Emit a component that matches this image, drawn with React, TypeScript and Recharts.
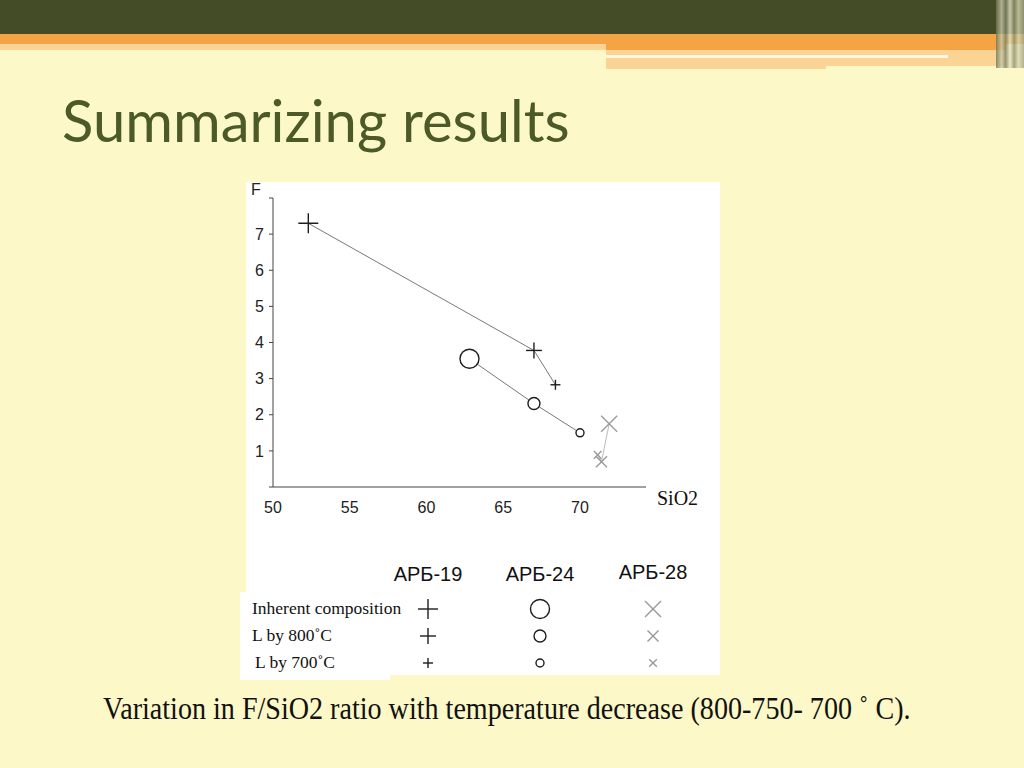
import React from 'react';
import { ScatterChart, Scatter, XAxis, YAxis } from 'recharts';

// stages of the experiment (marker size goes down with each stage)
const stages = ['Inherent composition', 'L by 800˚C', 'L by 700˚C'];
const samples = ['АРБ-19', 'АРБ-24', 'АРБ-28'];

const sio2Arb19 = [52.3, 67.0, 68.4];
const fArb19 = [7.3, 3.78, 2.83];
const sio2Arb24 = [62.8, 67.0, 70.0];
const fArb24 = [3.55, 2.31, 1.5];
const sio2Arb28 = [71.9, 71.4, 71.15];
const fArb28 = [1.75, 0.7, 0.89];

const xTicks = [50, 55, 60, 65, 70];
const yTicks = [0, 1, 2, 3, 4, 5, 6, 7, 8];

const toPoints = (xs: number[], ys: number[]) =>
  xs.map((x, i) => ({ x, y: ys[i], stage: i }));

const arb19 = toPoints(sio2Arb19, fArb19);
const arb24 = toPoints(sio2Arb24, fArb24);
const arb28 = toPoints(sio2Arb28, fArb28);

const markerStyle: any = {
  plus: { sizes: [10, 8, 5], color: '#1e1e1e' },
  circle: { sizes: [9.5, 6, 4], color: '#1e1e1e' },
  cross: { sizes: [8, 5.5, 3.8], color: '#9a9a9a' },
};

function Marker({ kind, stage, cx, cy }: { kind: string; stage: number; cx: number; cy: number }) {
  const st = markerStyle[kind];
  const s = st.sizes[stage];
  if (kind === 'circle') {
    return <circle cx={cx} cy={cy} r={s} fill="#fff" stroke={st.color} strokeWidth={1.4} />;
  }
  if (kind === 'plus') {
    return (
      <g stroke={st.color} strokeWidth={1.4}>
        <line x1={cx - s} y1={cy} x2={cx + s} y2={cy} />
        <line x1={cx} y1={cy - s} x2={cx} y2={cy + s} />
      </g>
    );
  }
  return (
    <g stroke={st.color} strokeWidth={1.4}>
      <line x1={cx - s} y1={cy - s} x2={cx + s} y2={cy + s} />
      <line x1={cx - s} y1={cy + s} x2={cx + s} y2={cy - s} />
    </g>
  );
}

const kinds = ['plus', 'circle', 'cross'];
const colX = [428, 540, 653];
const rowY = [609, 636, 663];

function LegendIcon({ kind, stage, x, y }: any) {
  return (
    <svg style={{ position: 'absolute', left: x - 14, top: y - 14 }} width={28} height={28}>
      <Marker kind={kind} stage={stage} cx={14} cy={14} />
    </svg>
  );
}

export default function App() {
  const tickStyle = { fill: '#222', fontSize: 16, fontFamily: '"Liberation Sans", Arial, sans-serif' };
  return (
    <div style={{ position: 'absolute', left: 0, top: 0, width: 1024, height: 768, background: '#fdf8c7', overflow: 'hidden' }}>
      {/* header bands */}
      <div style={{ position: 'absolute', left: 0, top: 0, width: 1024, height: 34, background: '#434c27' }} />
      <div style={{ position: 'absolute', left: 0, top: 34, width: 1024, height: 10, background: '#f5a445' }} />
      <div style={{ position: 'absolute', left: 0, top: 44, width: 606, height: 6, background: '#fbd394' }} />
      <div style={{ position: 'absolute', left: 606, top: 44, width: 400, height: 6, background: '#f5a445' }} />
      <div style={{ position: 'absolute', left: 606, top: 50, width: 400, height: 5, background: '#fbd394' }} />
      <div style={{ position: 'absolute', left: 606, top: 55, width: 342, height: 3, background: '#fffbe0' }} />
      <div style={{ position: 'absolute', left: 948, top: 55, width: 58, height: 3, background: '#fbd394' }} />
      <div style={{ position: 'absolute', left: 606, top: 58, width: 220, height: 11, background: '#fbd394' }} />
      <div style={{ position: 'absolute', left: 826, top: 58, width: 180, height: 8, background: '#fbd394' }} />
      <div style={{ position: 'absolute', left: 996, top: 0, width: 28, height: 68, background: 'linear-gradient(90deg, #6e7450 0%, #c9c9a8 20%, #7d8060 35%, #e8e6c8 50%, #8b8d6a 65%, #d8d6b0 80%, #9ea080 100%)', opacity: 0.8 }} />

      <div style={{ position: 'absolute', left: 62, top: 85, fontFamily: 'Lato, sans-serif', fontSize: 58, lineHeight: 1.2, color: '#4b5a28', whiteSpace: 'nowrap' }}>
        Summarizing results
      </div>

      {/* white image panel */}
      <div style={{ position: 'absolute', left: 246, top: 182, width: 474, height: 493, background: '#fff' }} />
      <div style={{ position: 'absolute', left: 240, top: 592, width: 150, height: 88, background: '#fff' }} />

      <div style={{ position: 'absolute', left: 246, top: 182 }}>
        <ScatterChart width={474} height={340} margin={{ top: 16, right: 74, bottom: 5, left: 0 }}>
          <XAxis
            type="number"
            dataKey="x"
            domain={[50, 74.3]}
            ticks={xTicks}
            allowDataOverflow
            height={30}
            tickLine={false}
            tickSize={6}
            tickMargin={9}
            axisLine={{ stroke: '#444' }}
            tick={tickStyle}
          />
          <YAxis
            type="number"
            dataKey="y"
            domain={[0, 8]}
            ticks={yTicks}
            width={27}
            tickSize={4}
            tickMargin={5}
            tickLine={{ stroke: '#444' }}
            axisLine={{ stroke: '#444' }}
            tick={tickStyle}
            tickFormatter={(v: number) => (v === 0 || v === 8 ? '' : String(v))}
          />
          <Scatter
            name={samples[0]}
            data={arb19}
            isAnimationActive={false}
            line={{ stroke: '#555', strokeWidth: 0.8 }}
            shape={(p: any) => <Marker kind="plus" stage={p.payload.stage} cx={p.cx} cy={p.cy} />}
          />
          <Scatter
            name={samples[1]}
            data={arb24}
            isAnimationActive={false}
            line={{ stroke: '#555', strokeWidth: 0.8 }}
            shape={(p: any) => <Marker kind="circle" stage={p.payload.stage} cx={p.cx} cy={p.cy} />}
          />
          <Scatter
            name={samples[2]}
            data={arb28}
            isAnimationActive={false}
            line={{ stroke: '#aaa', strokeWidth: 0.8 }}
            shape={(p: any) => <Marker kind="cross" stage={p.payload.stage} cx={p.cx} cy={p.cy} />}
          />
        </ScatterChart>
      </div>

      <div style={{ position: 'absolute', left: 251, top: 181, fontFamily: '"Liberation Sans", Arial, sans-serif', fontSize: 16, color: '#222' }}>F</div>
      <div style={{ position: 'absolute', left: 657, top: 487, fontFamily: '"Liberation Serif", serif', fontSize: 20, color: '#111' }}>SiO2</div>

      {/* symbol table */}
      {samples.map((s, i) => (
        <div key={s} style={{ position: 'absolute', left: colX[i] - 60, width: 120, textAlign: 'center', top: i === 2 ? 561 : 563, fontFamily: '"Liberation Sans", Arial, sans-serif', fontSize: 20, color: '#111' }}>
          {s}
        </div>
      ))}
      {stages.map((st, r) => (
        <div key={st} style={{ position: 'absolute', left: r === 2 ? 255 : 252, top: rowY[r] - 11, fontFamily: '"Liberation Serif", serif', fontSize: 17.5, color: '#111', whiteSpace: 'nowrap' }}>
          {st}
        </div>
      ))}
      {stages.map((st, r) =>
        kinds.map((k, i) => <LegendIcon key={st + k} kind={k} stage={r} x={colX[i]} y={rowY[r]} />)
      )}

      <div style={{ position: 'absolute', left: 103, top: 690, fontFamily: '"Liberation Serif", serif', fontSize: 32, lineHeight: 1.15, color: '#111', whiteSpace: 'nowrap', transform: 'scaleX(0.878)', transformOrigin: 'left top' }}>
        Variation in F/SiO2 ratio with temperature decrease (800-750- 700 ˚ C).
      </div>
    </div>
  );
}
